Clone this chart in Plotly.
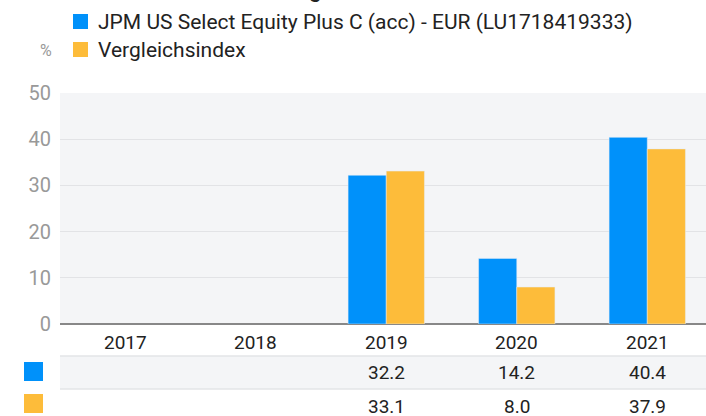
import plotly.graph_objects as go

years = ["2017", "2018", "2019", "2020", "2021"]
fund_name = "JPM US Select Equity Plus C (acc) - EUR (LU1718419333)"
index_name = "Vergleichsindex"
fund_values = [None, None, 32.2, 14.2, 40.4]
index_values = [None, None, 33.1, 8.0, 37.9]
y_ticks = [0, 10, 20, 30, 40, 50]
title_text = "Wertentwicklung"

BLUE = "#0091FA"
ORANGE = "#FDBC3A"
FONT = "Roboto, Liberation Sans, Arial, sans-serif"
TXT = "#222222"

W, H = 706, 416
L, R, T, B = 60, 0, 93, 92
PW, PH = W - L - R, H - T - B


def px(x):
    return (x - L) / PW


def py(y):
    return (H - B - y) / PH


fig = go.Figure()
fig.add_trace(go.Bar(x=years, y=fund_values, marker_color=BLUE, name=fund_name, showlegend=False))
fig.add_trace(go.Bar(x=years, y=index_values, marker_color=ORANGE, name=index_name, showlegend=False))

shapes = []
annotations = []

# table rows
shapes.append(dict(type="rect", xref="paper", yref="paper", x0=px(60), x1=px(706), y0=py(389), y1=py(356),
                   fillcolor="#F4F5F7", line_width=0, layer="below"))
for yy in (356, 389):
    shapes.append(dict(type="line", xref="paper", yref="paper", x0=px(60), x1=px(706), y0=py(yy), y1=py(yy),
                       line=dict(color="#E3E4E7", width=1.5)))

# table row squares
for color, (y0, y1) in ((BLUE, (362, 381)), (ORANGE, (394, 413))):
    shapes.append(dict(type="rect", xref="paper", yref="paper", x0=px(24), x1=px(43), y0=py(y1), y1=py(y0),
                       fillcolor=color, line_width=0))

# legend squares
for color, (y0, y1) in ((BLUE, (14, 29)), (ORANGE, (42, 57))):
    shapes.append(dict(type="rect", xref="paper", yref="paper", x0=px(73), x1=px(88), y0=py(y1), y1=py(y0),
                       fillcolor=color, line_width=0))

# legend texts
for txt, yc in ((fund_name, 21.5), (index_name, 49.5)):
    annotations.append(dict(text=txt, xref="paper", yref="paper", x=px(96), y=py(yc), xanchor="left",
                            yanchor="middle", showarrow=False, font=dict(family=FONT, size=21, color=TXT)))

# % label
annotations.append(dict(text="%", xref="paper", yref="paper", x=px(46), y=py(51), xanchor="center",
                        yanchor="middle", showarrow=False, font=dict(family=FONT, size=16, color="#999999")))

# cut-off title
annotations.append(dict(text="<b>" + title_text + "</b>", xref="paper", yref="paper", x=px(324), y=py(4),
                        xanchor="right", yanchor="bottom", showarrow=False,
                        font=dict(family=FONT, size=22, color=TXT)))

# year labels and table values
for i, yr in enumerate(years):
    annotations.append(dict(text=yr, xref="x", yref="paper", x=i, y=py(342), xanchor="center",
                            yanchor="middle", showarrow=False, font=dict(family=FONT, size=19, color=TXT)))
    for vals, yc in ((fund_values, 372.5), (index_values, 406)):
        v = vals[i]
        if v is not None:
            annotations.append(dict(text=f"{v:.1f}", xref="x", yref="paper", x=i, y=py(yc), xanchor="center",
                                    yanchor="middle", showarrow=False,
                                    font=dict(family=FONT, size=19, color=TXT)))

fig.update_layout(
    width=W, height=H,
    margin=dict(l=L, r=R, t=T, b=B, autoexpand=False),
    paper_bgcolor="white",
    plot_bgcolor="#F4F5F7",
    barmode="group",
    bargap=0.415,
    bargroupgap=0,
    showlegend=False,
    shapes=shapes,
    annotations=annotations,
    font=dict(family=FONT),
    xaxis=dict(type="category", range=[-0.5, 4.45], showticklabels=False, showgrid=False, zeroline=False,
               showline=False, fixedrange=True, automargin=False),
    yaxis=dict(range=[0, 50], tickvals=y_ticks, showgrid=True, gridcolor="#E2E3E6", gridwidth=1,
               zeroline=True, zerolinecolor="#888888", zerolinewidth=2,
               tickfont=dict(family=FONT, size=20, color="#999999"), ticks="", ticklabelstandoff=8,
               showline=False, fixedrange=True, automargin=False),
)

fig.write_html("out.html", config={"displayModeBar": False},
               post_script="document.body.style.margin='0';document.body.style.overflow='hidden';")
